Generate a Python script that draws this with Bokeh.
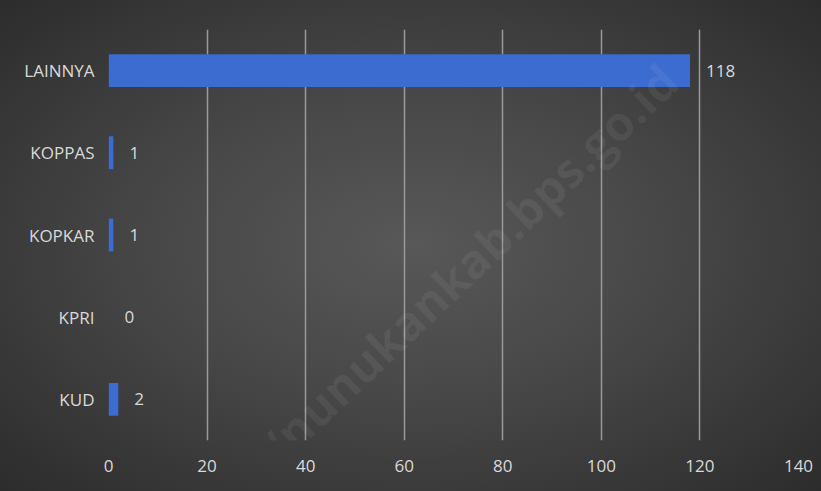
from bokeh.plotting import figure
from bokeh.models import ColumnDataSource, Label, FixedTicker
from bokeh.core.properties import value
from bokeh.embed import file_html
from bokeh.resources import INLINE

categories = ["KUD", "KPRI", "KOPKAR", "KOPPAS", "LAINNYA"]
counts = [2, 0, 1, 1, 118]
value_labels = [str(v) for v in counts]
x_ticks = [0, 20, 40, 60, 80, 100, 120, 140]

src = ColumnDataSource(dict(cat=categories, val=counts, lab=value_labels))

FONT = "Open Sans"
TXT = "#d9d9d9"

p = figure(width=821, height=491, y_range=categories, x_range=(0, 140),
           output_backend="svg", toolbar_location=None,
           min_border_left=108, min_border_right=23, min_border_top=29, min_border_bottom=51,
           styles={"background": "radial-gradient(ellipse at 50% 50%, #585858 0%, #474747 45%, #2c2c2c 100%)"})
p.background_fill_alpha = 0
p.border_fill_alpha = 0
p.outline_line_color = None

# shadow
p.hbar(y="cat", right="val", left=0, height=0.4, source=src,
       fill_color="#1a1a1a", fill_alpha=0.35, line_color=None)
p.hbar(y="cat", right="val", left=0, height=0.4, source=src,
       fill_color="#3d6cd0", line_color=None)

p.text(x="val", y="cat", text="lab", source=src, x_offset=16,
       text_baseline="middle", text_align="left", text_color=TXT,
       text_font=value(FONT), text_font_size="17px")

p.xgrid.ticker = FixedTicker(ticks=x_ticks)
p.xgrid.grid_line_color = "#9a9a9a"
p.xgrid.grid_line_width = 1.5
p.ygrid.grid_line_color = None

p.xaxis.ticker = FixedTicker(ticks=x_ticks)
for ax in (p.xaxis[0], p.yaxis[0]):
    ax.axis_line_color = None
    ax.major_tick_line_color = None
    ax.minor_tick_line_color = None
    ax.major_label_text_color = TXT
    ax.major_label_text_font = FONT
    ax.major_label_text_font_size = "17px"
p.xaxis.major_label_standoff = 13
p.yaxis.major_label_standoff = 8

wm = Label(x=302, y=122, x_units="screen", y_units="screen",
           text="https://nunukankab.bps.go.id", angle=0.76,
           text_align="center", text_baseline="middle",
           text_font=FONT, text_font_style="bold", text_font_size="48px",
           text_color="white", text_alpha=0.06)
p.add_layout(wm)

open("out.html", "w").write(file_html(p, INLINE))
